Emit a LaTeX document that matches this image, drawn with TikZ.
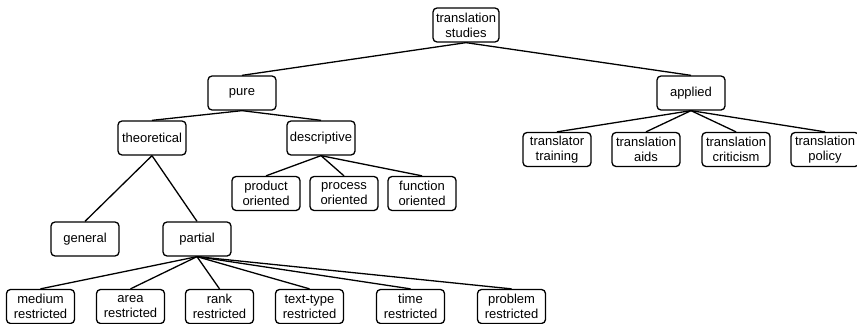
\documentclass[tikz,border=0pt]{standalone}
\usepackage{fontspec}
\setmainfont{Liberation Sans}
\usepackage{tikz}
\usetikzlibrary{positioning}
\tikzset{
  topic/.style={draw, line width=1.3pt, rounded corners=4pt, align=center,
    minimum width=68pt, minimum height=34pt, inner sep=1pt,
    font=\fontsize{13}{15}\selectfont},
  branch/.style={line width=1.3pt}
}

\begin{document}
\begin{tikzpicture}[x=1pt, y=-1pt, node distance=89pt]
			\useasboundingbox (0,0) rectangle (857,324);
			% upper levels
			\node[topic, minimum width=66pt] (ts) 	at (466,25) 	{translation\\studies};
			\node[topic] (pure) 			at (242,93) 	{pure};
			\node[topic] (applied) 		at (691,93) 	{applied};
			\node[topic] (theo) 			at (152,138) 	{theoretical};
			\node[topic] (desc) 			at (321,138) 	{descriptive};
			%
			\node[topic] (train) 			at (557,149.5) 	{translator\\training};
			\node[topic] (aids) 			[right of=train] 	{translation\\aids};
			\node[topic] (crit) 			[right of=aids, xshift=1pt] 	{translation\\criticism};
			\node[topic] (policy) 		[right of=crit] 	{translation\\policy};
			%
			\node[topic] (product) 		at (266,193.5) 	{product\\oriented};
			\node[topic] (process) 		[right of=product, xshift=-11pt] 	{process\\oriented};
			\node[topic] (function) 	[right of=process, xshift=-11pt] 	{function\\oriented};
			%
			\node[topic] (general) 		at (85,239) 	{general};
			\node[topic] (partial) 		at (197,239) 	{partial};
			% bottom row
			\node[topic] (medium) 		at (40.5,306.5) 	{medium\\restricted};
			\node[topic] (area) 			[right of=medium, xshift=1pt] 	{area\\restricted};
			\node[topic] (rank) 			[right of=area] 	{rank\\restricted};
			\node[topic] (texttype) 	[right of=rank, xshift=1pt] 	{text-type\\restricted};
			\node[topic] (time) 			[right of=texttype, xshift=12pt] 	{time\\restricted};
			\node[topic] (problem) 		[right of=time, xshift=12pt] 	{problem\\restricted};
			%
			\draw[branch] (ts.south) to (pure.north);
			\draw[branch] (ts.south) to (applied.north);
			\draw[branch] (pure.south) to (theo.north);
			\draw[branch] (pure.south) to (desc.north);
			\foreach \kid in {train, aids, crit, policy}
				\draw[branch] (applied.south) to (\kid.north);
			\foreach \kid in {product, process, function}
				\draw[branch] (desc.south) to (\kid.north);
			\draw[branch] (theo.south) to (general.north);
			\draw[branch] (theo.south) to (partial.north);
			\foreach \kid in {medium, area, rank, texttype, time, problem}
				\draw[branch] (partial.south) to (\kid.north);
		\end{tikzpicture}
\end{document}
